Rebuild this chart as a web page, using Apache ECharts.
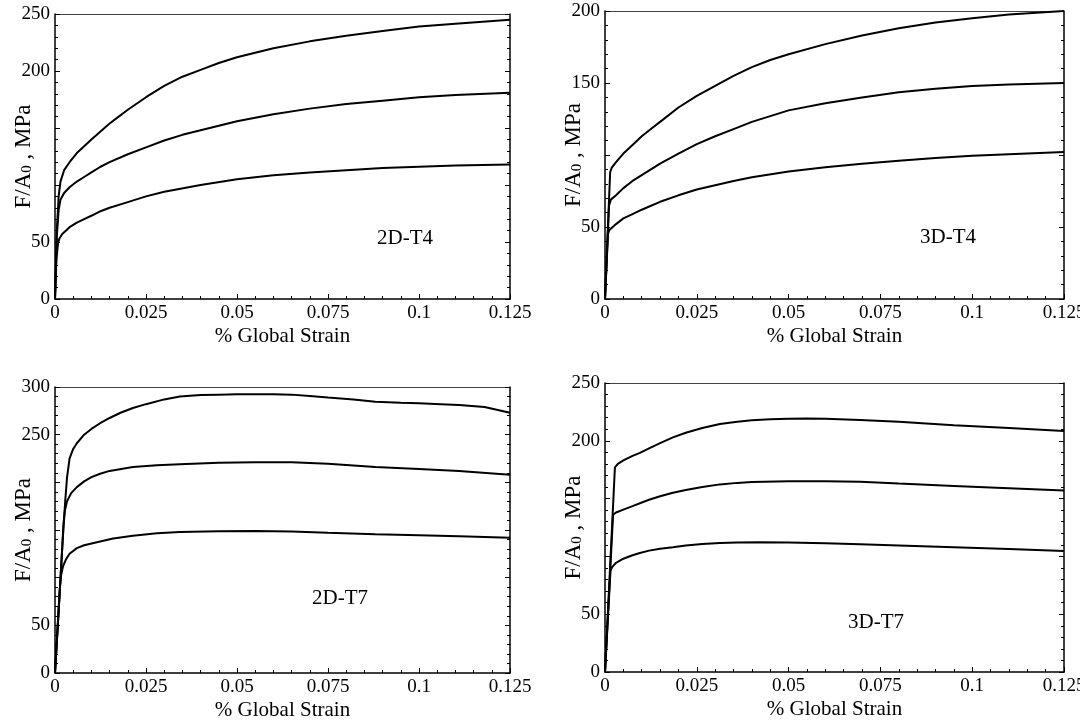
<!DOCTYPE html>
<html>
<head>
<meta charset="utf-8">
<script src="https://cdn.jsdelivr.net/npm/echarts@6/dist/echarts.min.js"></script>
<style>
  html, body { margin: 0; padding: 0; background: #fff; }
  #chart { width: 1080px; height: 722px; }
</style>
</head>
<body>
<div id="chart"></div>
<script>
// x ticks (strain)
var strainTicks = [0, 0.025, 0.05, 0.075, 0.1, 0.125];

// y tick labels that are actually printed on each panel
var yLabels2dT4 = [0, 50, 200, 250];
var yLabels3dT4 = [0, 50, 150, 200];
var yLabels2dT7 = [0, 50, 250, 300];
var yLabels3dT7 = [0, 50, 200, 250];

// 2D-T4 curves [strain, stress]
var t4_2d_top = [[0,0],[0.0005,60],[0.001,90],[0.0015,103],[0.0025,113],[0.004,120],[0.006,128],[0.008,134],[0.01,140],[0.0125,147],[0.015,154],[0.0175,160],[0.02,166],[0.025,177],[0.03,187],[0.035,195],[0.04,201],[0.045,207],[0.05,212],[0.055,216],[0.06,220],[0.07,226],[0.08,231],[0.09,235],[0.1,239],[0.11,241.5],[0.125,245]];
var t4_2d_mid = [[0,0],[0.0005,55],[0.001,78],[0.0015,87],[0.0025,93],[0.004,98],[0.006,103],[0.008,107],[0.01,111],[0.0125,116],[0.015,120],[0.02,127],[0.025,133],[0.03,139],[0.035,144],[0.04,148],[0.05,156],[0.06,162],[0.07,167],[0.08,171],[0.09,174],[0.1,177],[0.11,179],[0.125,181]];
var t4_2d_low = [[0,0],[0.0004,35],[0.0008,48],[0.0012,53],[0.002,57],[0.004,63],[0.006,67],[0.008,70],[0.01,73],[0.0125,77],[0.015,80],[0.02,85],[0.025,90],[0.03,94],[0.04,100],[0.05,105],[0.06,108.5],[0.07,111],[0.08,113],[0.09,115],[0.1,116],[0.11,117],[0.125,118]];

// 3D-T4 curves
var t4_3d_top = [[0,0],[0.0014,88],[0.0018,91],[0.003,95],[0.005,101],[0.0075,107],[0.01,113],[0.0125,118],[0.015,123],[0.02,133],[0.025,141],[0.03,148],[0.035,155],[0.04,161],[0.045,166],[0.05,170],[0.06,177],[0.07,183],[0.08,188],[0.09,192],[0.1,195],[0.11,197.5],[0.125,200]];
var t4_3d_mid = [[0,0],[0.0011,65],[0.0016,69],[0.003,72],[0.005,77],[0.0075,82],[0.01,86],[0.0125,90],[0.015,94],[0.02,101],[0.025,107.5],[0.03,113],[0.035,118],[0.04,123],[0.045,127],[0.05,131],[0.06,136],[0.07,140],[0.08,143.5],[0.09,146],[0.1,148],[0.11,149],[0.125,150]];
var t4_3d_low = [[0,0],[0.0008,45],[0.0012,48],[0.003,52],[0.005,56],[0.0075,59],[0.01,62],[0.015,67.5],[0.02,72],[0.025,76],[0.03,79],[0.035,82],[0.04,84.5],[0.05,88.5],[0.06,91.5],[0.07,94],[0.08,96],[0.09,98],[0.1,99.5],[0.11,100.5],[0.125,102]];

// 2D-T7 curves
var t7_2d_top = [[0,0],[0.002,132],[0.0028,180],[0.0033,205],[0.004,225],[0.005,235],[0.006,241],[0.008,250],[0.01,256],[0.0124,262],[0.015,267.5],[0.018,273],[0.0214,278],[0.025,282],[0.03,287],[0.0343,290],[0.04,291.5],[0.045,292],[0.05,292.5],[0.06,292.5],[0.065,292],[0.07,290.5],[0.075,289],[0.082,287],[0.088,284.5],[0.095,283.5],[0.1,283],[0.106,282],[0.111,281],[0.118,279],[0.125,273]];
var t7_2d_mid = [[0,0],[0.002,132],[0.0023,155],[0.0027,170],[0.0033,180],[0.0045,189],[0.006,195],[0.008,201],[0.01,205.5],[0.0124,209],[0.015,212],[0.0214,216],[0.028,218],[0.0343,219],[0.045,220.5],[0.055,221],[0.065,221],[0.075,219.5],[0.088,216],[0.1,214],[0.111,212],[0.125,208]];
var t7_2d_low = [[0,0],[0.0014,92],[0.0017,103],[0.0022,112],[0.003,119],[0.004,125],[0.006,131],[0.008,134],[0.0124,138],[0.016,141],[0.0214,144],[0.028,146.5],[0.0343,148],[0.045,148.8],[0.055,149],[0.065,148.3],[0.075,147],[0.088,145.5],[0.1,144.5],[0.111,143.5],[0.125,142]];

// 3D-T7 curves
var t7_3d_top = [[0,0],[0.0027,177],[0.0035,180],[0.005,183],[0.0075,187],[0.0095,189.5],[0.012,193.5],[0.015,198],[0.0185,203],[0.022,207],[0.0265,211],[0.0313,214.5],[0.036,216.5],[0.04,217.8],[0.045,218.6],[0.05,219],[0.055,219.2],[0.06,219],[0.0695,218],[0.08,216.5],[0.095,213.5],[0.11,211],[0.125,208.5]];
var t7_3d_mid = [[0,0],[0.0022,136],[0.003,138],[0.005,140.5],[0.0075,143.5],[0.0095,146],[0.012,149],[0.015,152],[0.0185,155],[0.022,157.5],[0.0265,160],[0.0313,162.3],[0.036,163.6],[0.04,164.3],[0.05,165],[0.06,165],[0.0695,164.5],[0.08,163],[0.095,161],[0.11,159],[0.125,157]];
var t7_3d_low = [[0,0],[0.0015,88],[0.002,91],[0.003,94.5],[0.005,98],[0.0075,101],[0.0095,103],[0.012,105],[0.015,106.7],[0.0185,108],[0.022,109.5],[0.0265,110.7],[0.0313,111.6],[0.036,112.1],[0.042,112.3],[0.05,112],[0.06,111.3],[0.0695,110.5],[0.08,109.5],[0.095,108],[0.11,106.5],[0.125,104.7]];

var panels = [
  { grid: { left: 55, top: 14, width: 455, height: 285 }, yMax: 250, yLabels: yLabels2dT4, curves: [t4_2d_top, t4_2d_mid, t4_2d_low], tag: '2D-T4', tagPos: [405, 238] },
  { grid: { left: 605, top: 11, width: 459, height: 288 }, yMax: 200, yLabels: yLabels3dT4, curves: [t4_3d_top, t4_3d_mid, t4_3d_low], tag: '3D-T4', tagPos: [948, 237] },
  { grid: { left: 55, top: 387, width: 455, height: 286 }, yMax: 300, yLabels: yLabels2dT7, curves: [t7_2d_top, t7_2d_mid, t7_2d_low], tag: '2D-T7', tagPos: [340, 598] },
  { grid: { left: 605, top: 383, width: 459, height: 289 }, yMax: 250, yLabels: yLabels3dT7, curves: [t7_3d_top, t7_3d_mid, t7_3d_low], tag: '3D-T7', tagPos: [876, 622] }
];

var font = 'Liberation Serif';
var option = { backgroundColor: '#fff', animation: false, grid: [], xAxis: [], yAxis: [], series: [], graphic: [] };

panels.forEach(function (p, i) {
  var g = p.grid;
  g.outerBoundsMode = 'none';
  g.containLabel = false;
  option.grid.push(g);
  // bottom axis
  option.xAxis.push({
    type: 'value', gridIndex: i, min: 0, max: 0.125, interval: 0.025,
    name: '% Global Strain', nameLocation: 'middle', nameGap: 27, nameMoveOverlap: false,
    nameTextStyle: { fontFamily: font, fontSize: 21, color: '#000' },
    axisLine: { onZero: false, lineStyle: { color: '#000', width: 1.5 } },
    axisTick: { inside: true, length: 5, lineStyle: { color: '#000' } },
    minorTick: { show: true, splitNumber: 5, length: 3, lineStyle: { color: '#000' } },
    axisLabel: { fontFamily: font, fontSize: 19, color: '#000', margin: 5,
      formatter: function (v) { return strainTicks.indexOf(+v.toFixed(3)) >= 0 ? String(+v.toFixed(3)) : ''; } },
    splitLine: { show: false }
  });
  // top frame line
  option.xAxis.push({
    type: 'value', gridIndex: i, position: 'top', min: 0, max: 0.125,
    axisLine: { onZero: false, lineStyle: { color: '#444', width: 1.2 } },
    axisTick: { show: false }, axisLabel: { show: false }, splitLine: { show: false }
  });
  option.yAxis.push({
    type: 'value', gridIndex: i, min: 0, max: p.yMax, interval: 50,
    name: '{a|F/A}{s|0}{a| , MPa}', nameLocation: 'middle', nameGap: 20, nameRotate: 90, nameMoveOverlap: false,
    nameTextStyle: { color: '#000', rich: {
      a: { fontFamily: font, fontSize: 23, color: '#000', lineHeight: 26, verticalAlign: 'bottom' },
      s: { fontFamily: font, fontSize: 15, color: '#000', lineHeight: 26, verticalAlign: 'bottom' }
    } },
    axisLine: { onZero: false, lineStyle: { color: '#000', width: 1.5 } },
    axisTick: { inside: true, length: 5, lineStyle: { color: '#000' } },
    minorTick: { show: true, splitNumber: 5, length: 3, lineStyle: { color: '#000' } },
    axisLabel: { fontFamily: font, fontSize: 19, color: '#000', margin: 5,
      formatter: function (v) { return p.yLabels.indexOf(v) >= 0 ? String(v) : ''; } },
    splitLine: { show: false }
  });
  // right frame with ticks
  option.yAxis.push({
    type: 'value', gridIndex: i, position: 'right', min: 0, max: p.yMax, interval: 50,
    axisLine: { show: true, onZero: false, lineStyle: { color: '#000', width: 1.5 } },
    axisTick: { show: true, inside: true, length: 5, lineStyle: { color: '#000' } },
    minorTick: { show: true, splitNumber: 5, length: 3, lineStyle: { color: '#000' } },
    axisLabel: { show: false }, splitLine: { show: false }
  });
  p.curves.forEach(function (c) {
    option.series.push({
      type: 'line', xAxisIndex: i * 2, yAxisIndex: i * 2, data: c,
      showSymbol: false, smooth: false,
      lineStyle: { color: '#000', width: 2 }
    });
  });
  option.graphic.push({
    type: 'text', x: p.tagPos[0], y: p.tagPos[1],
    style: { text: p.tag, font: '21px "Liberation Serif"', fill: '#000', align: 'center', verticalAlign: 'middle' }
  });
});

var chart = echarts.init(document.getElementById('chart'));
chart.setOption(option);
</script>
</body>
</html>
